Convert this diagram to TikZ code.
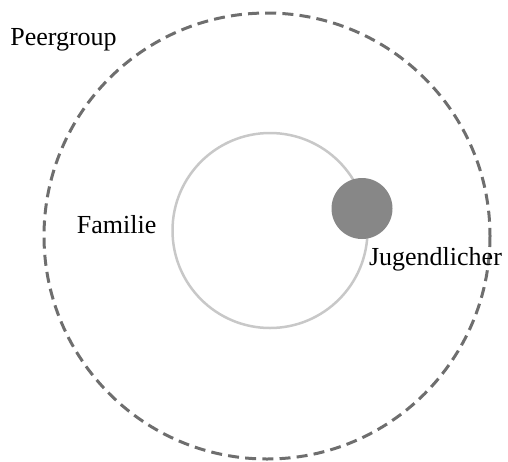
\documentclass[tikz,border=0pt]{standalone}
\usepackage{fontspec}
\setmainfont{Liberation Serif}
\definecolor{outergray}{HTML}{6E6E6E}
\definecolor{innergray}{HTML}{C8C8C8}
\definecolor{fillgray}{HTML}{878787}
\begin{document}
\begin{tikzpicture}[x=1pt,y=-1pt,
  lbl/.style={inner sep=0pt,anchor=base,font=\fontsize{26}{30}\selectfont},
  peerring/.style={draw=outergray,line width=3pt,dash pattern=on 11pt off 6.2pt},
  famring/.style={draw=innergray,line width=2.5pt},
  youth/.style={fill=fillgray,draw=none}]
\useasboundingbox (0,0) rectangle (508,461);
\draw[peerring] (267,236) circle[radius=223];
\draw[famring] (270,230.5) circle[radius=97.5];
\fill[youth] (362,208.5) circle[radius=30.5];
\node[lbl] (peer) at (63.5,45) {Peergroup};
\node[lbl] (fam) at (116.7,233.3) {Familie};
\node[lbl] (jug) at (435.5,265) {Jugendlicher};
\end{tikzpicture}
\end{document}
